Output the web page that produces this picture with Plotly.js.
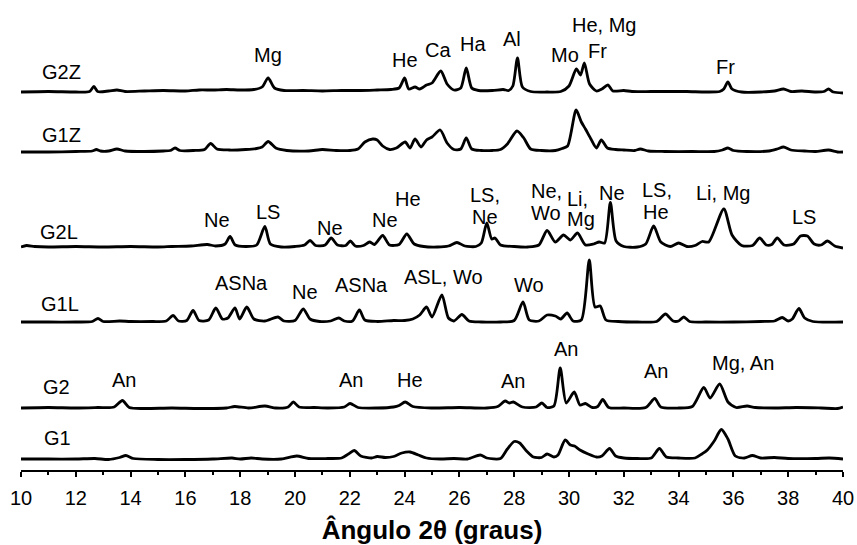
<!DOCTYPE html>
<html>
<head>
<meta charset="utf-8">
<script src="https://cdn.plot.ly/plotly-3.0.1.min.js"></script>
<style>html,body{margin:0;padding:0;background:#fff;}#chart{width:857px;height:545px;}</style>
</head>
<body>
<div id="chart"></div>
<script>
// ---- data: 2θ positions and intensities (arbitrary units, relative to each pattern's baseline) ----
const sampleNames = ["G1", "G2", "G1L", "G2L", "G1Z", "G2Z"];
const sampleOffsets = [11, 62, 148, 223, 318, 378];

const g2zX = [10,11,12,12.5,12.66,12.8,13.2,13.5,13.8,14.5,15.2,16,16.5,17,17.5,18,18.5,18.8,19.02,19.25,19.6,20.3,21,21.7,22.4,23,23.5,23.8,24.0,24.15,24.38,24.55,24.8,25.0,25.32,25.55,25.8,26.05,26.25,26.45,26.7,27.2,27.6,27.8,27.95,28.12,28.3,28.6,29.2,29.7,30.0,30.27,30.42,30.56,30.75,31.0,31.2,31.42,31.6,32.0,32.3,33,33.5,34.3,35.0,35.5,35.65,35.8,35.95,36.3,37,37.5,37.83,38.1,38.5,39,39.3,39.47,39.65,40];
const g2zI = [0,0.5,0,0.5,5.5,0.5,1,2,0.5,1,1.5,1,2,2,2.5,2,2.5,5,14,4,1.5,1.5,1,1.5,1.5,2,2.5,4,14,3,5,3,7,9,21,8,2,4,24,4,1.5,1.5,2.5,1.5,6,34,5,0.5,0,0.5,6,23,17,29,8,1,3,7,1,1.5,0.5,0.5,0.5,0.5,0,0.5,3,10,3,0,0,1,3,0.5,1,0,0.5,3,0,-1];

const g1zX = [10,11,12,12.6,12.75,12.9,13.2,13.5,13.8,14.5,15.2,15.45,15.62,15.8,16.3,16.7,16.92,17.15,17.6,18.2,18.6,18.8,19.02,19.3,19.7,20.5,21,21.5,22,22.3,22.55,22.84,23.0,23.2,23.45,23.7,24.02,24.2,24.38,24.6,24.8,25.0,25.3,25.55,25.8,26.05,26.25,26.45,26.8,27.2,27.5,27.75,28.1,28.35,28.6,29.0,29.5,29.75,29.95,30.26,30.45,30.6,30.8,31.0,31.18,31.4,31.7,32,32.4,32.6,32.9,33.5,34.5,35.3,35.6,35.8,36.0,36.5,37.3,37.6,37.83,38.1,38.6,39.0,39.47,39.8,40];
const g1zI = [0,0,0.5,1,2.5,1,1,3,1,0.5,1,1.5,4,1.5,1.5,2.5,8.5,3,2,2.5,3.5,5,10.5,4,1.5,1,2.5,1.5,1.5,3,10,13,12,6,2.5,4,10,4,13,5,12,15,22,9,2.5,3,14,3,1.5,1.5,2.5,8,21,14,3,1.5,1.5,3.5,6,42,30,23,13,4,12,4,2.5,2,1.5,3,1,0.5,0.5,0.5,2,4,1.5,0.5,1,3,5,2,1,0.5,2,0,0];

const g2lX = [10,10.2,10.5,11,12,13,14,15,15.5,16.2,16.8,17.1,17.45,17.63,17.82,18.2,18.6,18.9,19.1,19.5,20.0,20.35,20.55,20.75,21.1,21.32,21.55,21.85,22.02,22.2,22.5,22.72,22.9,23.2,23.45,23.8,24.08,24.35,24.7,25.2,25.6,25.91,26.2,26.6,26.8,27.0,27.18,27.3,27.5,28,28.5,28.9,29.2,29.5,29.8,30.05,30.31,30.6,30.9,31.1,31.3,31.51,31.72,32,32.5,32.8,33.09,33.35,33.7,34.0,34.3,34.6,34.86,35.1,35.65,35.95,36.3,36.7,36.96,37.2,37.4,37.6,37.85,38.2,38.45,38.7,38.95,39.2,39.43,39.7,40];
const g2lI = [0,1.5,0.5,0,0.5,0,0.5,0,0.5,1,2.5,1,3,10.5,2,0.5,2,20.5,3,0,0.5,2,6.5,1.5,2,9,2,1.5,6,1,1.5,5,2.5,11.5,2,2.5,13,3,0.5,0,1,4.5,1,0.5,4,24,8,9,2,0.5,0,2,16.5,5,12,7,14,2,3,5,4,44.5,6,0.5,0,3,21,5,0.5,4,0.5,1.5,5.5,5,38,12,1.5,1.5,9,2,2.5,9,2,3,11,11,3,2,6,1,-1];

const g1lX = [10,11,12,12.6,12.81,13.0,13.6,14,14.8,15.3,15.55,15.75,16.05,16.28,16.5,16.85,17.11,17.35,17.55,17.81,17.98,18.24,18.5,18.9,19.38,19.6,20.0,20.3,20.55,20.9,21.3,21.6,21.8,22.1,22.35,22.55,23,23.6,24.0,24.3,24.55,24.8,25.0,25.36,25.6,25.8,26.09,26.35,26.8,27.5,28.0,28.32,28.55,28.9,29.2,29.5,29.7,29.93,30.15,30.45,30.74,30.95,31.14,31.35,31.8,32.5,33.2,33.52,33.8,34.0,34.19,34.4,35,36,37,37.5,37.78,38.0,38.15,38.39,38.6,38.9,40];
const g1lI = [0,0,0,0.5,3.5,0.5,1,0.5,0.5,1,6.5,1,1.5,11.5,1.5,2,14,3,4,14,3,15,3,1,5,1,1.5,13,3,0.5,1,4,1,1,12,2,0.5,1.5,1.5,3,7,15,5,27,4,1,7.5,1,0,0,1.5,20,2,1,7,6,3,9,1,2,62,15,16,2,0.5,0,0.5,8,1,1,5,0.5,0,0,0.5,1,4.5,1,3,13.5,4,0.5,0];

const g2X = [10,11,12,12.8,13.4,13.7,13.95,14.5,15.5,16.5,17.5,17.8,18.3,18.9,19.3,19.75,19.94,20.15,20.7,21.2,21.8,22.01,22.3,23,23.6,23.8,24.02,24.3,25,26,27,27.4,27.67,27.82,27.97,28.3,28.8,29.01,29.2,29.45,29.68,29.9,30.19,30.4,30.6,30.85,31.05,31.23,31.45,32,32.8,33.13,33.35,34,34.5,34.92,35.15,35.5,35.8,36.1,36.5,36.8,37.5,38.3,39.2,39.8,40];
const g2I = [0,0.5,0,0.5,1,7.5,0.5,-0.5,0,-0.5,0,1.5,0,2,0,1,6,1,0.5,0,1,4.5,0.5,0,1,2.5,6,1.5,0,0.5,0,1.5,7,5,6,1,1,5,0.5,2,40,5,16,3,4.5,0.5,1.5,8.5,0.5,0,0.5,9.5,1,0,1.5,20.5,10,24,6,0.5,2,0.5,0,0.5,0,-0.5,1];

const g1X = [10,11,12,12.7,13.2,13.6,13.83,14.1,15,16,17,17.7,18,18.4,18.8,19.5,20.06,20.5,21.2,21.7,21.95,22.16,22.4,22.8,23.0,23.3,23.6,23.9,24.2,24.5,24.8,25.3,25.8,26.3,26.76,27.0,27.5,27.75,28.0,28.2,28.45,28.7,29.0,29.2,29.45,29.6,29.86,30.05,30.2,30.4,30.7,31.0,31.2,31.48,31.7,32.0,32.5,33.0,33.3,33.55,34,34.6,34.85,35.05,35.3,35.56,35.8,36.07,36.4,36.69,37,37.5,38,39,39.5,40];
const g1I = [0,0,0,0.5,-0.5,1.5,3.5,0.5,-0.5,-0.5,0,1,0,1,0,0,3,0.5,0.5,1,5,8.5,3,1,2.5,1.5,2.5,6,7,4,1,0,0.5,0,4,1,0.5,10,17.5,16,8,2,1.5,5,2,4,19,14,13,9,5,2,3,10.5,3,1,0.5,1,10.5,2,1,1,5,9,18,29.5,20,3,1,3.5,1,1.5,0.5,0.5,1,0];

const xTickVals = [10,12,14,16,18,20,22,24,26,28,30,32,34,36,38,40];
const xTitle = "Ângulo 2θ (graus)";

// phase labels
const labelTexts = ["G2Z","Mg","He","Ca","Ha","Al","Mo","Fr","He, Mg","Fr",
  "G1Z",
  "G2L","Ne","LS","Ne","Ne","He","LS,","Ne","Ne,","Wo","Li,","Mg","Ne","LS,","He","Li, Mg","LS",
  "G1L","ASNa","Ne","ASNa","ASL, Wo","Wo",
  "G2","An","An","He","An","An","An","Mg, An",
  "G1"];
</script>
<script>
// ---- layout geometry (pixels in the 857x545 frame) ----
const W = 857, H = 545;
const M = {l: 21, r: 14, t: 0, b: 75};
const PW = W - M.l - M.r, PH = H - M.t - M.b;
const labelPx = [[61,72],[268,55],[405,60],[438,50],[472.5,44],[512,39],[565,55],[597,51],[604,25],[725,67],
  [61,135],
  [59,232],[216.7,220],[268,212],[330,228],[385,220],[408,199],[485,195],[485,217],[546,191],[546,213],[577,198.5],[581,218.5],[612,193],[657,190],[656,212],[723,193],[804,217],
  [60,304],[241,283],[305,292],[361,285],[443,277],[529,285],
  [56,387],[124,380],[351,380],[410,380],[513,381],[566,349],[656,371],[743,363],
  [57,438]];

const series = {
  "G1": [g1X, g1I], "G2": [g2X, g2I], "G1L": [g1lX, g1lI],
  "G2L": [g2lX, g2lI], "G1Z": [g1zX, g1zI], "G2Z": [g2zX, g2zI]
};

const traces = sampleNames.map((name, k) => {
  const [xs, is] = series[name];
  return {
    type: "scatter", mode: "lines", name: name,
    x: xs, y: is.map(v => v + sampleOffsets[k]),
    line: {color: "#000", width: 2.8, shape: "spline", smoothing: 0.7},
    hoverinfo: "skip"
  };
});

const font = "Arial, 'Liberation Sans', sans-serif";
const annotations = labelTexts.map((t, i) => ({
  text: t, xref: "paper", yref: "paper",
  x: (labelPx[i][0] - M.l) / PW, y: (H - M.b - labelPx[i][1]) / PH,
  xanchor: "center", yanchor: "middle", showarrow: false,
  font: {family: font, size: 20, color: "#000"}
}));

const layout = {
  width: W, height: H, margin: M,
  paper_bgcolor: "#fff", plot_bgcolor: "#fff",
  showlegend: false,
  xaxis: {
    range: [10, 40], tickvals: xTickVals, ticktext: xTickVals.map(String),
    showline: true, linecolor: "#000", linewidth: 2,
    ticks: "outside", ticklen: 5, tickwidth: 2, tickcolor: "#000",
    ticklabelstandoff: 4,
    minor: {dtick: 1, tick0: 10, ticks: "outside", ticklen: 3, tickwidth: 2, tickcolor: "#000", showgrid: false},
    showgrid: false, zeroline: false,
    tickfont: {family: font, size: 20, color: "#000"},
    title: {text: xTitle, standoff: 15, font: {family: font, size: 26, color: "#000", weight: "bold"}}
  },
  yaxis: {range: [0, PH], visible: false, showgrid: false, zeroline: false, fixedrange: true},
  annotations: annotations
};

Plotly.newPlot("chart", traces, layout, {displayModeBar: false, staticPlot: true});
</script>
</body>
</html>
